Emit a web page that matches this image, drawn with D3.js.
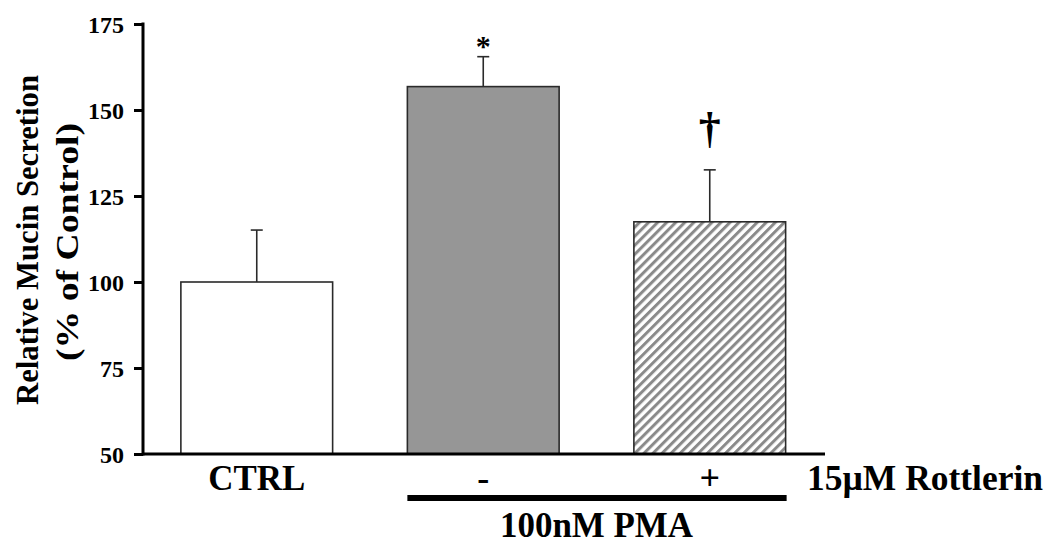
<!DOCTYPE html>
<html>
<head>
<meta charset="utf-8">
<script src="https://cdn.jsdelivr.net/npm/d3@7"></script>
<style>
  body { margin: 0; background: #fff; }
  text { font-family: "Liberation Serif", "Times New Roman", serif; font-weight: bold; fill: #000; }
</style>
</head>
<body>
<svg width="1058" height="546"></svg>
<script>
// data
const groups = ["CTRL", "PMA", "PMA+Rottlerin"];
const means = [100, 156.8, 117.5];
const errors = [15.1, 8.7, 15.1];
const marks = ["", "*", "\u2020"];
const rottlerinLabels = ["CTRL", "-", "+"];
const yTicks = [50, 75, 100, 125, 150, 175];

const svg = d3.select("svg");

// pattern for the hatched bar
const defs = svg.append("defs");
defs.append("pattern")
	.attr("id", "hatch")
	.attr("patternUnits", "userSpaceOnUse")
	.attr("width", 6.4)
	.attr("height", 6.4)
	.attr("patternTransform", "rotate(45)")
	.call(p => {
		p.append("rect").attr("width", 6.4).attr("height", 6.4).attr("fill", "#fff");
		p.append("rect").attr("width", 3).attr("height", 6.4).attr("fill", "#8a8a8a");
	});

const fills = ["#fff", "#969696", "url(#hatch)"];

const y = d3.scaleLinear()
	.domain([50, 175])
	.range([454, 24]);

const x = d3.scaleBand()
	.domain(groups)
	.range([143.5, 823])
	.paddingInner(0.33)
	.paddingOuter(0.165);

//bars
svg.append("g")
	.selectAll("rect")
	.data(groups)
	.enter().append("rect")
	.attr("x", d => x(d))
	.attr("width", x.bandwidth())
	.attr("y", (d, i) => y(means[i]))
	.attr("height", (d, i) => y(50) - y(means[i]))
	.attr("fill", (d, i) => fills[i])
	.attr("stroke", "#2a2a2a")
	.attr("stroke-width", 1.6);

//error bars (upper only)
const err = svg.append("g")
	.attr("stroke", "#2a2a2a")
	.attr("stroke-width", 1.6);

groups.forEach((g, i) => {
	const cx = x(g) + x.bandwidth() / 2;
	err.append("line")
		.attr("x1", cx).attr("x2", cx)
		.attr("y1", y(means[i])).attr("y2", y(means[i] + errors[i]));
	err.append("line")
		.attr("x1", cx - 6).attr("x2", cx + 6)
		.attr("y1", y(means[i] + errors[i])).attr("y2", y(means[i] + errors[i]));
});

//significance marks
svg.append("g")
	.selectAll("text")
	.data(groups)
	.enter().append("text")
	.attr("x", d => x(d) + x.bandwidth() / 2)
	.attr("y", (d, i) => i == 1 ? 56 : 143)
	.attr("text-anchor", "middle")
	.attr("font-size", (d, i) => i == 1 ? 30 : 44)
	.attr("font-weight", (d, i) => i == 1 ? "normal" : "bold")
	.text((d, i) => marks[i]);

//y axis
const yAxis = svg.append("g")
	.attr("transform", "translate(143,0)")
	.call(d3.axisLeft(y).tickValues(yTicks).tickSize(9).tickPadding(10));

yAxis.select(".domain").remove();
yAxis.selectAll(".tick line").attr("stroke", "#000").attr("stroke-width", 3);
yAxis.selectAll(".tick text")
	.attr("font-family", null)
	.attr("font-size", 24)
	.attr("dy", "0.34em");

svg.append("line")
	.attr("x1", 143).attr("x2", 143)
	.attr("y1", y(175) - 1.5).attr("y2", y(50) + 1.5)
	.attr("stroke", "#000").attr("stroke-width", 3);

//x axis line
svg.append("line")
	.attr("x1", 143).attr("x2", 825)
	.attr("y1", y(50)).attr("y2", y(50))
	.attr("stroke", "#000").attr("stroke-width", 3);

//category labels under the bars
svg.append("g")
	.selectAll("text")
	.data(groups)
	.enter().append("text")
	.attr("x", d => x(d) + x.bandwidth() / 2)
	.attr("y", 490)
	.attr("text-anchor", "middle")
	.attr("font-size", 36)
	.attr("font-weight", (d, i) => i == 0 ? "bold" : "normal")
	.attr("textLength", (d, i) => i == 0 ? 97 : null)
	.attr("lengthAdjust", "spacingAndGlyphs")
	.text((d, i) => rottlerinLabels[i]);

svg.append("text")
	.attr("x", 807)
	.attr("y", 490)
	.attr("font-size", 36)
	.attr("textLength", 236)
	.attr("lengthAdjust", "spacingAndGlyphs")
	.text("15\u00b5M Rottlerin");

//PMA bracket
svg.append("line")
	.attr("x1", x("PMA")).attr("x2", x("PMA+Rottlerin") + x.bandwidth() + 1)
	.attr("y1", 498).attr("y2", 498)
	.attr("stroke", "#000").attr("stroke-width", 6);

svg.append("text")
	.attr("x", (x("PMA") + x("PMA+Rottlerin") + x.bandwidth()) / 2)
	.attr("y", 537)
	.attr("text-anchor", "middle")
	.attr("font-size", 35)
	.attr("textLength", 193)
	.attr("lengthAdjust", "spacingAndGlyphs")
	.text("100nM PMA");

//y axis title
svg.append("text")
	.attr("transform", "translate(38,240) rotate(-90)")
	.attr("text-anchor", "middle")
	.attr("font-size", 31)
	.attr("textLength", 330)
	.attr("lengthAdjust", "spacingAndGlyphs")
	.text("Relative Mucin Secretion");

svg.append("text")
	.attr("transform", "translate(78,242) rotate(-90)")
	.attr("text-anchor", "middle")
	.attr("font-size", 31)
	.attr("textLength", 238)
	.attr("lengthAdjust", "spacingAndGlyphs")
	.text("(% of Control)");
</script>
</body>
</html>
